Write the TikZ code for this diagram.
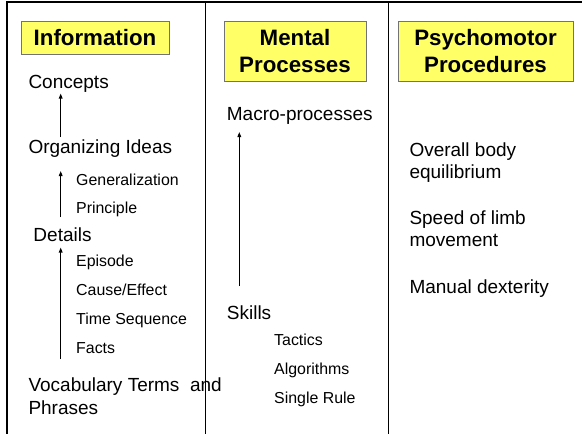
\documentclass[tikz,border=0pt]{standalone}
\usepackage{fontspec}
\setmainfont{Liberation Sans}
\usetikzlibrary{arrows.meta}
\tikzset{
  frame/.style={line width=1.4pt, black},
  hdr/.style={draw=black!55, line width=0.8pt, fill={rgb,255:red,255;green,255;blue,102}, inner sep=0pt, align=center, font=\fontsize{22.3}{26.5}\selectfont\bfseries},
  big/.style={anchor=base west, inner sep=0pt, font=\fontsize{19}{22.6}\selectfont},
  small/.style={anchor=base west, inner sep=0pt, font=\fontsize{15.9}{19}\selectfont},
  arr/.style={line width=1.2pt, -{Triangle[length=5pt,width=3.6pt]}}
}
\begin{document}
\begin{tikzpicture}[x=1pt,y=-1pt]
\useasboundingbox (0,0) rectangle (582,434);
\fill[white] (0,0) rectangle (582,434);
% frame
\coordinate (tl) at (6,2);
\coordinate (tr) at (582,2);
\coordinate (l1) at (7,2);   \coordinate (l2) at (7,434);
\coordinate (d1a) at (205.5,2); \coordinate (d1b) at (205.5,434);
\coordinate (d2a) at (388.5,2); \coordinate (d2b) at (388.5,434);
\draw[frame, line width=2pt] (tl) -- (tr);
\draw[frame] (l1) -- (l2);
\draw[frame] (d1a) -- (d1b);
\draw[frame] (d2a) -- (d2b);
% headers
\node[hdr, minimum width=148pt, minimum height=33pt] (hinfo) at (95,37.5) {Information};
\node[hdr, minimum width=142pt, minimum height=60pt] (hment) at (295,51) {Mental\\Processes};
\node[hdr, minimum width=175pt, minimum height=60pt] (hpsy) at (485.5,51) {Psychomotor\\Procedures};
% information column
\node[big] (concepts) at (28.3,88.3) {Concepts};
\node[big] (org) at (28.3,153.3) {Organizing Ideas};
\node[small] (gen) at (76,185.3) {Generalization};
\node[small] (prin) at (76,213.3) {Principle};
\node[big] (details) at (33.3,241) {Details};
\node[small] (epi) at (76,266.7) {Episode};
\node[small] (cause) at (76,295.7) {Cause/Effect};
\node[small] (time) at (76,324.3) {Time Sequence};
\node[small] (facts) at (76,353.3) {Facts};
\node[big] (vocab) at (28.3,391.7) {Vocabulary Terms\ \ and};
\node[big] (phrases) at (28.3,414.3) {Phrases};
\coordinate (a1s) at (60.7,137); \coordinate (a1e) at (60.7,93.5);
\coordinate (a2s) at (60.7,217); \coordinate (a2e) at (60.7,171);
\coordinate (a3s) at (60.7,359); \coordinate (a3e) at (60.7,247.5);
\draw[arr] (a1s) -- (a1e);
\draw[arr] (a2s) -- (a2e);
\draw[arr] (a3s) -- (a3e);
% mental column
\node[big] (macro) at (226.7,120) {Macro-processes};
\node[big] (skills) at (226.7,319) {Skills};
\node[small] (tact) at (274,345) {Tactics};
\node[small] (algo) at (274,374) {Algorithms};
\node[small] (rule) at (274,403.3) {Single Rule};
\coordinate (a4s) at (239.3,286); \coordinate (a4e) at (239.3,132);
\draw[arr] (a4s) -- (a4e);
% psychomotor column
\node[big] (over1) at (409.3,156.7) {Overall body};
\node[big] (over2) at (409.3,178.7) {equilibrium};
\node[big] (speed1) at (409.3,224) {Speed of limb};
\node[big] (speed2) at (409.3,246.7) {movement};
\node[big] (manual) at (409.3,293.3) {Manual dexterity};
\end{tikzpicture}
\end{document}
